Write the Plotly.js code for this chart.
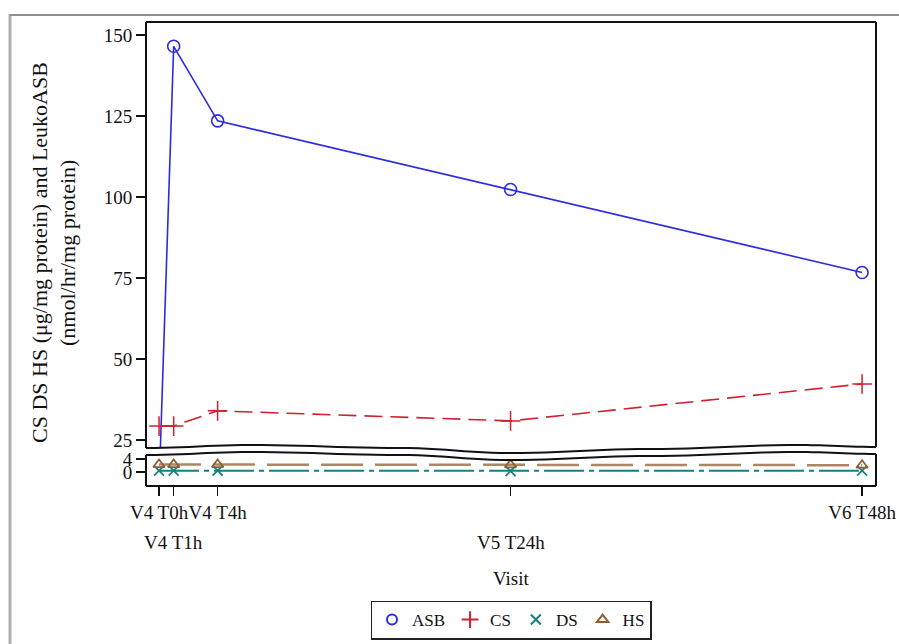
<!DOCTYPE html>
<html><head><meta charset="utf-8">
<script src="https://cdn.plot.ly/plotly-3.0.1.min.js"></script>
<style>html,body{margin:0;padding:0;background:#fff}</style>
</head><body><div id="chart" style="width:899px;height:644px"></div>
<script>
// ---- data ----
const hours = [0, 1, 4, 24, 48];
const visitLabels = ['V4 T0h', 'V4 T1h', 'V4 T4h', 'V5 T24h', 'V6 T48h'];
const asb = [10, 146.5, 123.5, 102.3, 76.7];
const cs = [29.3, 29.3, 34.0, 30.9, 42.3];
const ds = [0.4, 0.4, 0.4, 0.3, 0.4];
const hs = [2.3, 2.3, 2.3, 2.2, 2.1];
const upperTicks = [25, 50, 75, 100, 125, 150];
const lowerTicks = [0, 4];

// ---- layout helpers (pixel -> paper) ----
const L = 146, R = 876, T = 22, B = 486;
const W = R - L, H = B - T;
const px = x => (x - L) / W;
const py = y => (B - y) / H;

const FONT = 'Liberation Serif, Times New Roman, serif';
const cBlue = '#2b2be0', cRed = '#d0202e', cTeal = '#17807f', cBrown = '#8f5f36', cBrownLine = '#b08660';

const row1 = [0, 2, 4], row2 = [1, 3];

const traces = [
  {x: hours, y: asb, xaxis: 'x', yaxis: 'y', mode: 'lines+markers', name: 'ASB', showlegend: false,
   line: {color: cBlue, width: 1.6}, marker: {symbol: 'circle-open', size: 12, color: cBlue, line: {width: 1.6}}},
  {x: hours, y: cs, xaxis: 'x', yaxis: 'y', mode: 'lines+markers', name: 'CS', showlegend: false,
   line: {color: cRed, width: 1.6, dash: '18px,8px'}, marker: {symbol: 'cross-thin-open', size: 14, color: cRed, line: {width: 1.5, color: cRed}}},
  {x: hours, y: ds, xaxis: 'x', yaxis: 'y2', mode: 'lines+markers', name: 'DS', showlegend: false,
   line: {color: cTeal, width: 2, dash: '40px,5px,5px,5px'}, marker: {symbol: 'x-thin-open', size: 10, color: cTeal, line: {width: 1.8, color: cTeal}}},
  {x: hours, y: hs, xaxis: 'x', yaxis: 'y2', mode: 'lines+markers', name: 'HS', showlegend: false,
   line: {color: cBrownLine, width: 2.5, dash: '42px,12px'}, marker: {symbol: 'triangle-up-open', size: 10, color: cBrown, line: {width: 1.8, color: cBrown}}},
  // legend entries (marker only)
  {x: [null], y: [null], mode: 'markers', name: 'ASB', marker: {symbol: 'circle-open', size: 10, color: cBlue, line: {width: 2}}},
  {x: [null], y: [null], mode: 'markers', name: 'CS', marker: {symbol: 'cross-thin-open', size: 12, color: cRed, line: {width: 2, color: cRed}}},
  {x: [null], y: [null], mode: 'markers', name: 'DS', marker: {symbol: 'x-thin-open', size: 10, color: cTeal, line: {width: 2, color: cTeal}}},
  {x: [null], y: [null], mode: 'markers', name: 'HS', marker: {symbol: 'triangle-up-open', size: 10, color: cBrown, line: {width: 2, color: cBrown}}}
];

// wavy break lines (decoration)
const waveAnchors = [[146, 448], [250, 445], [400, 448], [510, 453], [650, 449], [800, 445], [876, 447]];
function wavePts(offset) {
  const pts = [];
  for (let i = 0; i < waveAnchors.length - 1; i++) {
    const [x0, y0] = waveAnchors[i], [x1, y1] = waveAnchors[i + 1];
    const n = 12;
    for (let k = 0; k < n; k++) {
      const t = k / n;
      const s = (1 - Math.cos(Math.PI * t)) / 2;
      pts.push([x0 + (x1 - x0) * t, y0 + (y1 - y0) * s + offset]);
    }
  }
  const last = waveAnchors[waveAnchors.length - 1];
  pts.push([last[0], last[1] + offset]);
  return pts;
}
const w1 = wavePts(0), w2 = wavePts(7);
const toPath = pts => pts.map((p, i) => (i ? 'L' : 'M') + px(p[0]).toFixed(5) + ',' + py(p[1]).toFixed(5)).join(' ');
const bandPath = toPath(w1.concat(w2.slice().reverse())) + ' Z';

const lineShape = (x0, y0, x1, y1, color, width) => ({type: 'line', xref: 'paper', yref: 'paper', layer: 'above',
  x0: px(x0), y0: py(y0), x1: px(x1), y1: py(y1), line: {color: color || '#111', width: width || 2}});

const shapes = [
  {type: 'path', xref: 'paper', yref: 'paper', layer: 'above', path: bandPath, fillcolor: '#fff', line: {width: 0}},
  {type: 'path', xref: 'paper', yref: 'paper', layer: 'above', path: toPath(w1), line: {color: '#111', width: 2}},
  {type: 'path', xref: 'paper', yref: 'paper', layer: 'above', path: toPath(w2), line: {color: '#111', width: 2}},
  lineShape(L, T, R, T), lineShape(L, T, L, 448), lineShape(R, T, R, 447),
  lineShape(L, 455, L, B), lineShape(L, B, R, B), lineShape(R, 454, R, B),
  // outer grey frame
  lineShape(10, 14, 10, 660, '#b0b0b0', 3), lineShape(10, 15, 920, 15, '#909090', 2)
];

const annotations = [
  {text: 'CS DS HS (μg/mg protein) and LeukoASB', xref: 'paper', yref: 'paper', x: px(40), y: py(253),
   xanchor: 'center', yanchor: 'middle', textangle: -90, showarrow: false, font: {family: FONT, size: 22}},
  {text: '(nmol/hr/mg protein)', xref: 'paper', yref: 'paper', x: px(68), y: py(253),
   xanchor: 'center', yanchor: 'middle', textangle: -90, showarrow: false, font: {family: FONT, size: 22}},
  {text: 'Visit', xref: 'paper', yref: 'paper', x: px(511), y: py(578),
   xanchor: 'center', yanchor: 'middle', showarrow: false, font: {family: FONT, size: 19}}
];
// second (staggered) row of tick labels, placed on the x axis
row2.forEach(i => annotations.push({text: visitLabels[i], xref: 'x', yref: 'paper', x: hours[i], y: py(542),
  xanchor: 'center', yanchor: 'middle', showarrow: false, font: {family: FONT, size: 19}}));

const layout = {
  width: 899, height: 644,
  margin: {l: L, r: 899 - R, t: T, b: 644 - B},
  paper_bgcolor: '#fff', plot_bgcolor: '#fff',
  font: {family: FONT, size: 16, color: '#111'},
  showlegend: true,
  legend: {orientation: 'h', xref: 'paper', x: px(511), xanchor: 'center', yref: 'container', y: 1 - 620 / 644, yanchor: 'middle',
    bordercolor: '#222', borderwidth: 1.5, font: {family: FONT, size: 17, color: '#111'}, itemwidth: 30},
  xaxis: {anchor: 'y2', range: [-0.89, 48.95], tickvals: row1.map(i => hours[i]), ticktext: row1.map(i => visitLabels[i]),
    ticks: 'outside', ticklen: 9, tickwidth: 1.5, tickcolor: '#111', tickangle: 0, automargin: false,
    showgrid: false, zeroline: false, showline: false, tickfont: {family: FONT, size: 19}},
  yaxis: {domain: [py(452), 1], range: [21.3, 154.0], tickvals: upperTicks, anchor: 'x', automargin: false,
    ticks: 'outside', ticklen: 9, tickwidth: 1.5, tickcolor: '#111',
    showgrid: false, zeroline: false, showline: false, tickfont: {family: FONT, size: 19}},
  yaxis2: {domain: [0, py(455)], range: [-4.3, 5.23], tickvals: lowerTicks, anchor: 'x', automargin: false,
    ticks: 'outside', ticklen: 9, tickwidth: 1.5, tickcolor: '#111',
    showgrid: false, zeroline: false, showline: false, tickfont: {family: FONT, size: 19}},
  shapes: shapes,
  annotations: annotations
};

// tick marks at every visit; labels of the second row are drawn as annotations
layout.xaxis.tickvals = hours.slice();
layout.xaxis.ticktext = hours.map((h, i) => row1.includes(i) ? visitLabels[i] : '');

Plotly.newPlot('chart', traces, layout, {displayModeBar: false, staticPlot: true});
</script></body></html>
